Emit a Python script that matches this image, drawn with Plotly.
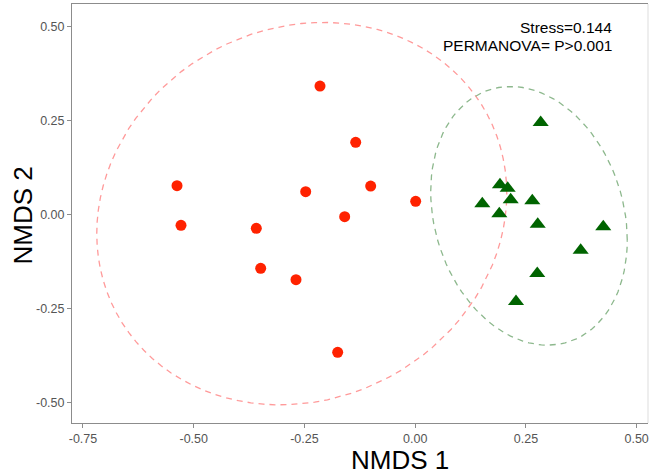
import numpy as np
import plotly.graph_objects as go

# ---- data ----
group_a_x = [-0.2149, -0.1343, -0.5377, -0.2472, -0.1005, 0.0011,
             -0.5287, -0.3587, -0.1592, -0.3488, -0.2691, -0.1750]
group_a_y = [0.3414, 0.1918, 0.0765, 0.0606, 0.0757, 0.0351,
             -0.0287, -0.0367, -0.0058, -0.1429, -0.1732, -0.3661]

group_b_x = [0.1914, 0.2088, 0.2156, 0.1515, 0.2644, 0.1899,
             0.2766, 0.4246, 0.3736, 0.2756, 0.2276, 0.2833]
group_b_y = [0.0790, 0.0699, 0.0390, 0.0284, 0.0364, 0.0018,
             -0.0258, -0.0327, -0.0949, -0.1568, -0.2312, 0.2444]

x_ticks = [-0.75, -0.50, -0.25, 0.00, 0.25, 0.50]
y_ticks = [-0.50, -0.25, 0.00, 0.25, 0.50]
annot_lines = ["Stress=0.144", "PERMANOVA= P>0.001"]
level = 0.95


def data_ellipse(xs, ys, level=0.95, segments=101):
    """stat_ellipse(type='norm') equivalent."""
    pts = np.column_stack([xs, ys])
    n = len(pts)
    center = pts.mean(axis=0)
    cov = np.cov(pts, rowvar=False)
    chol = np.linalg.cholesky(cov).T  # upper triangular like R chol()
    dfd = n - 1
    # F(2, dfd) quantile in closed form
    fq = (dfd / 2.0) * ((1 - level) ** (-2.0 / dfd) - 1)
    radius = np.sqrt(2 * fq)
    ang = np.linspace(0, 2 * np.pi, segments)
    unit = np.column_stack([np.cos(ang), np.sin(ang)])
    ell = center + radius * unit @ chol
    return ell[:, 0], ell[:, 1]


ea_x, ea_y = data_ellipse(group_a_x, group_a_y, level)
eb_x, eb_y = data_ellipse(group_b_x, group_b_y, level)

FONT = "Liberation Sans, Arial, Helvetica, sans-serif"

fig = go.Figure()
fig.add_trace(go.Scatter(x=ea_x, y=ea_y, mode="lines",
                         line=dict(color="#FF9A9A", width=1.3, dash="6px,5px"),
                         hoverinfo="skip", showlegend=False))
fig.add_trace(go.Scatter(x=eb_x, y=eb_y, mode="lines",
                         line=dict(color="#8DB88D", width=1.3, dash="6px,5px"),
                         hoverinfo="skip", showlegend=False))
fig.add_trace(go.Scatter(x=group_a_x, y=group_a_y, mode="markers",
                         marker=dict(symbol="circle", size=11, color="#FF2200",
                                     line=dict(width=0)),
                         showlegend=False))
fig.add_trace(go.Scatter(x=group_b_x, y=group_b_y, mode="markers",
                         marker=dict(symbol="triangle-up", size=14, color="#006400",
                                     line=dict(width=0)),
                         showlegend=False))

L, R, T, B = 72, 3, 4, 51
W, H = 651, 474
pw, ph = W - L - R, H - T - B

fig.update_layout(
    width=W, height=H,
    margin=dict(l=L, r=R, t=T, b=B, pad=0),
    paper_bgcolor="white", plot_bgcolor="white",
    font=dict(family=FONT),
    xaxis=dict(range=[-0.7748, 0.5256], tickvals=x_ticks,
               ticktext=[f"{v:.2f}" for v in x_ticks],
               showgrid=False, zeroline=False,
               showline=True, linecolor="#8C8C8C", linewidth=1, mirror=True,
               ticks="outside", ticklen=4, tickcolor="#8C8C8C",
               tickfont=dict(size=12.5, color="#555555", family=FONT)),
    yaxis=dict(range=[-0.5539, 0.5593], tickvals=y_ticks,
               ticktext=[f"{v:.2f}" for v in y_ticks],
               showgrid=False, zeroline=False,
               showline=True, linecolor="#8C8C8C", linewidth=1,
               ticks="outside", ticklen=4, tickcolor="#8C8C8C",
               tickfont=dict(size=12.5, color="#555555", family=FONT)),
)

# right border (faint)
fig.add_shape(type="line", xref="paper", yref="paper", x0=1, x1=1, y0=0, y1=1,
              line=dict(color="#DDDDDD", width=1))

# axis titles
fig.add_annotation(text="NMDS 1", xref="paper", yref="paper",
                   x=(400 - L) / pw, y=-(460 - (H - B)) / ph,
                   xanchor="center", yanchor="middle", showarrow=False,
                   font=dict(size=26, color="black", family=FONT))
fig.add_annotation(text="NMDS 2", xref="paper", yref="paper",
                   x=(22.5 - L) / pw, y=((H - B) - 216) / ph, textangle=-90,
                   xanchor="center", yanchor="middle", showarrow=False,
                   font=dict(size=26, color="black", family=FONT))

# stats text
for i, (line, ypx) in enumerate(zip(annot_lines, [28, 46])):
    fig.add_annotation(text=line, xref="paper", yref="paper",
                       x=(613.5 - L) / pw, y=((H - B) - ypx) / ph,
                       xanchor="right", yanchor="middle", showarrow=False,
                       font=dict(size=15.5, color="black", family=FONT))

fig.write_html("out.html")
